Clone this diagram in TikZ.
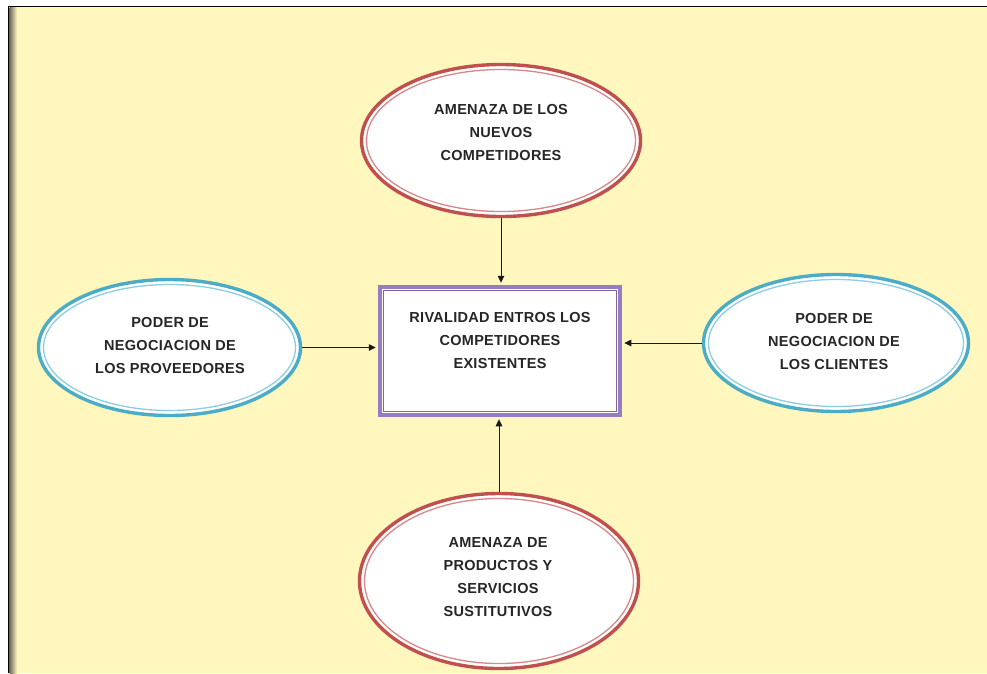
\documentclass[tikz,border=0pt]{standalone}
\usepackage{fontspec}
\setmainfont{Liberation Sans}
\newfontfamily\lblfont[LetterSpace=2]{Liberation Sans}
\usetikzlibrary{shapes.geometric,arrows.meta}
\definecolor{bgyellow}{RGB}{255,247,190}
\definecolor{redout}{RGB}{192,80,77}
\definecolor{redin}{RGB}{215,135,135}
\definecolor{blueout}{RGB}{75,172,198}
\definecolor{bluein}{RGB}{140,205,225}
\definecolor{purpout}{RGB}{150,125,195}
\definecolor{purpin}{RGB}{128,100,162}
\definecolor{barGray}{RGB}{110,110,95}
\tikzset{
  ell/.style={ellipse, fill=white, line width=3.4pt, inner sep=0pt},
  redell/.style={ell, draw=redout},
  blueell/.style={ell, draw=blueout},
  redinner/.style={draw=redin, line width=1.3pt},
  blueinner/.style={draw=bluein, line width=1.3pt},
  lbl/.style={font=\lblfont\bfseries\fontsize{14.5}{23}\selectfont, align=center, text=black!85, inner sep=0pt},
  arr/.style={draw=black!90, line width=0.9pt, -{Triangle[length=7pt,width=6.5pt]}, shorten >=2pt}
}
\begin{document}
\begin{tikzpicture}[x=1pt,y=-1pt]
\useasboundingbox (0,0) rectangle (987,673);
\fill[white] (0,0) rectangle (987,673);
\fill[bgyellow] (9,7) rectangle (987,673);
\shade[left color=barGray, right color=bgyellow] (9.5,7) rectangle (17,673);
\draw[black, line width=1.5pt] (8.5,673) -- (8.5,6.5) -- (987,6.5);

% central box
\node[draw=purpout, line width=4.5pt, fill=white, minimum width=240pt, minimum height=128pt, inner sep=0pt] (rect) at (500,351) {};
\draw[purpin, line width=1pt] ([xshift=6pt,yshift=6pt]rect.south west) rectangle ([xshift=-6pt,yshift=-6pt]rect.north east);
\node[lbl] (trect) at (500,340) {RIVALIDAD ENTROS LOS\\COMPETIDORES\\EXISTENTES};

% top
\node[redell, minimum width=279pt, minimum height=152pt] (top) at (501,140.5) {};
\draw[redinner] (top.center) ellipse [x radius=134.5pt, y radius=71pt];
\node[lbl] (ttop) at (501,133) {AMENAZA DE LOS\\NUEVOS\\COMPETIDORES};

% left
\node[blueell, minimum width=262pt, minimum height=136pt] (left) at (169.5,347.5) {};
\draw[blueinner] (left.center) ellipse [x radius=126pt, y radius=63pt];
\node[lbl] (tleft) at (170,345) {PODER DE\\NEGOCIACION DE\\LOS PROVEEDORES};

% right
\node[blueell, minimum width=265pt, minimum height=137pt] (right) at (836,343) {};
\draw[blueinner] (right.center) ellipse [x radius=127.5pt, y radius=63.5pt];
\node[lbl] (tright) at (834,341) {PODER DE\\NEGOCIACION DE\\LOS CLIENTES};

% bottom
\node[redell, minimum width=279pt, minimum height=175pt] (bottom) at (499,581) {};
\draw[redinner] (bottom.center) ellipse [x radius=134.5pt, y radius=82.5pt];
\node[lbl] (tbottom) at (498,577) {AMENAZA DE\\PRODUCTOS Y\\SERVICIOS\\SUSTITUTIVOS};

% connectors
\draw[arr] (top.south) -- (top.south |- rect.north);
\draw[arr] (bottom.north) -- (bottom.north |- rect.south);
\draw[arr] (left.east) -- (left.east -| rect.west);
\draw[arr] (right.west) -- (right.west -| rect.east);
\end{tikzpicture}
\end{document}
